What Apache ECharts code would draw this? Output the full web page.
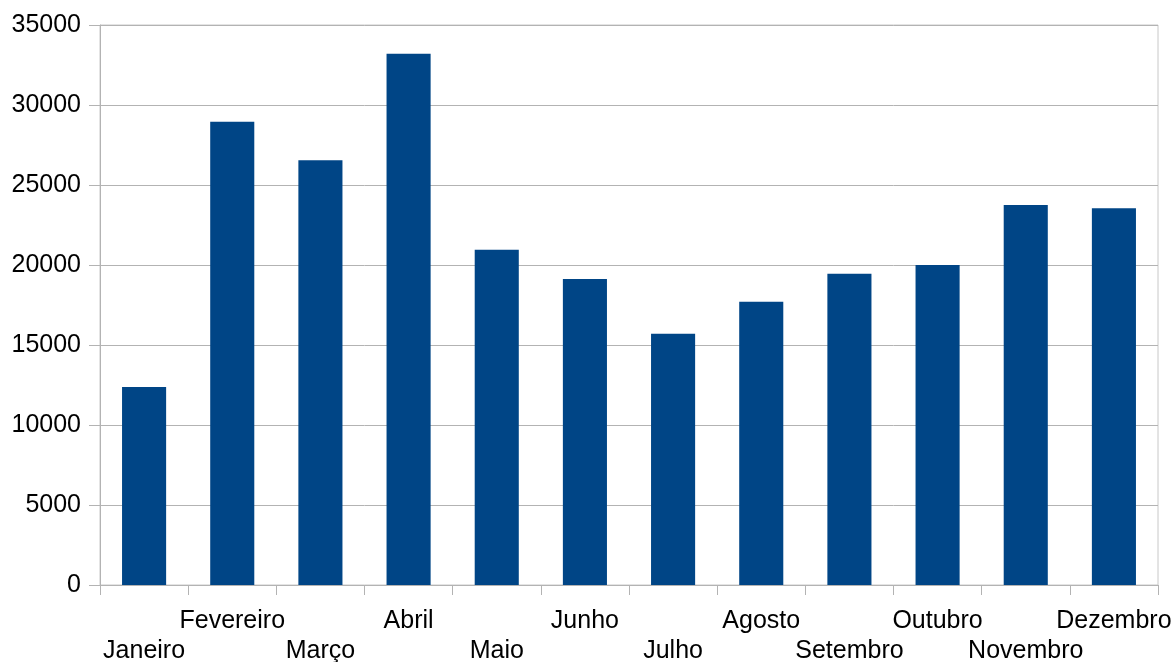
<!DOCTYPE html>
<html>
<head>
<meta charset="utf-8">
<script src="https://cdn.jsdelivr.net/npm/echarts@6/dist/echarts.min.js"></script>
<style>
html,body{margin:0;padding:0;background:#fff;}
#chart{width:1176px;height:662px;}
</style>
</head>
<body>
<div id="chart"></div>
<script>
const categories = ['Janeiro','Fevereiro','Março','Abril','Maio','Junho','Julho','Agosto','Setembro','Outubro','Novembro','Dezembro'];
const values = [12375, 28950, 26550, 33200, 20950, 19125, 15700, 17700, 19450, 20000, 23750, 23550];
const yTicks = [0, 5000, 10000, 15000, 20000, 25000, 30000, 35000];

const chart = echarts.init(document.getElementById('chart'), null, {renderer: 'canvas'});
const font = 'Liberation Sans, Arial, sans-serif';
chart.setOption({
  animation: false,
  backgroundColor: '#ffffff',
  grid: {
    left: 100, right: 18, top: 25, bottom: 77,
    containLabel: false,
    outerBoundsMode: 'none',
    show: true, borderColor: '#c8c8c8', borderWidth: 1, backgroundColor: 'transparent'
  },
  xAxis: {
    type: 'category',
    data: categories,
    boundaryGap: true,
    axisLine: {show: true, lineStyle: {color: '#b3b3b3', width: 1}},
    axisTick: {show: true, alignWithLabel: false, length: 10, lineStyle: {color: '#b3b3b3'}},
    axisLabel: {
      interval: 0,
      margin: 21,
      color: '#000000',
      fontFamily: font,
      fontSize: 25,
      lineHeight: 30,
      formatter: function (v, i) { return i % 2 === 0 ? '\n' + v : v; }
    },
    splitLine: {show: false}
  },
  yAxis: {
    type: 'value',
    min: yTicks[0],
    max: yTicks[yTicks.length - 1],
    interval: yTicks[1] - yTicks[0],
    axisLine: {show: true, lineStyle: {color: '#b3b3b3', width: 1}},
    axisTick: {show: true, length: 11, lineStyle: {color: '#b3b3b3'}},
    axisLabel: {
      margin: 19,
      color: '#000000',
      fontFamily: font,
      fontSize: 25,
      formatter: function (v) { return String(v); }
    },
    splitLine: {show: true, lineStyle: {color: '#b3b3b3', width: 1}}
  },
  series: [{
    type: 'bar',
    data: values,
    barWidth: '50%',
    itemStyle: {color: '#004586'}
  }]
});
</script>
</body>
</html>
